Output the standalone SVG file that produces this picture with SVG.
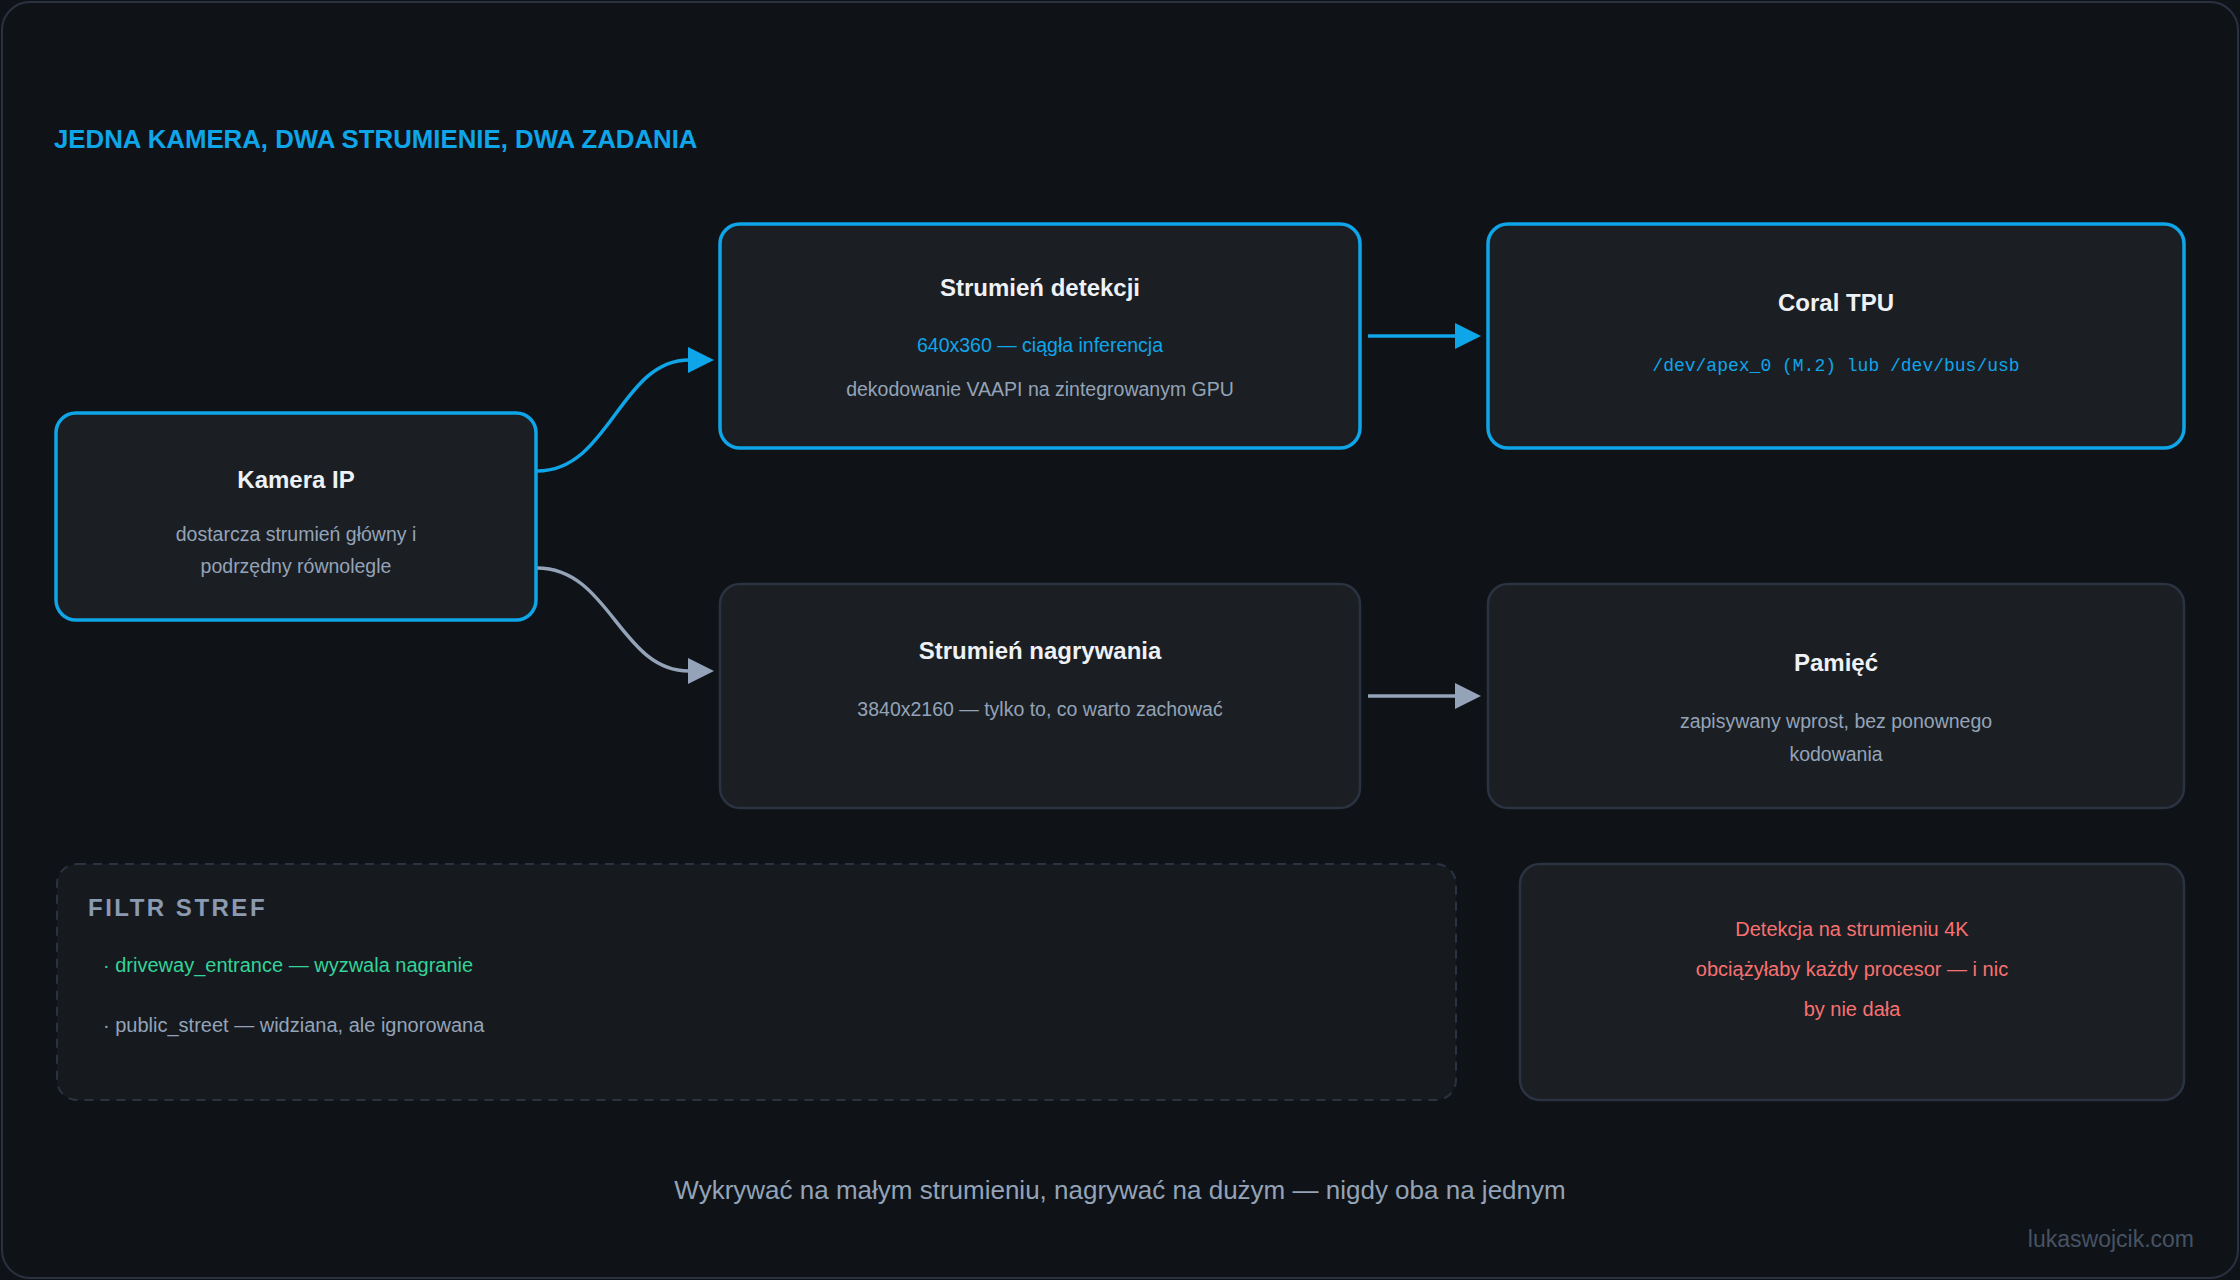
<svg xmlns="http://www.w3.org/2000/svg" width="2240" height="1280" viewBox="0 0 2240 1280">
<style>
.t{font-family:"Liberation Sans",Arial,sans-serif}
.nt{font-family:"Liberation Sans",Arial,sans-serif;font-weight:700;font-size:24px;fill:#eef1f5;text-anchor:middle}
.sub{font-family:"Liberation Sans",Arial,sans-serif;font-size:19.5px;fill:#94a3b8;text-anchor:middle}
.blue{fill:#0ea5e9}
.nodeA{fill:#1b1f23;stroke:#0ea5e9;stroke-width:3.5}
.nodeB{fill:#1b1f23;stroke:#2b3342;stroke-width:2.5}
.cb{fill:none;stroke:#0ea5e9;stroke-width:3.5}
.cg{fill:none;stroke:#94a3b8;stroke-width:3.5}
.mono{font-family:"Liberation Mono","DejaVu Sans Mono",monospace;font-size:18px;fill:#0ea5e9;text-anchor:middle}
</style>
<defs>
<marker id="ab" markerUnits="userSpaceOnUse" markerWidth="26" markerHeight="26" viewBox="0 0 26 26" refX="1" refY="13" orient="auto"><path d="M0,0 L26,13 L0,26 z" fill="#0ea5e9"/></marker>
<marker id="ag" markerUnits="userSpaceOnUse" markerWidth="26" markerHeight="26" viewBox="0 0 26 26" refX="1" refY="13" orient="auto"><path d="M0,0 L26,13 L0,26 z" fill="#94a3b8"/></marker>
</defs>
<rect x="0" y="0" width="2240" height="1280" fill="#0f1317"/>
<rect x="2" y="2" width="2236" height="1276" rx="28" fill="#0f1317" stroke="#2a3140" stroke-width="2"/>
<text x="54" y="148" class="t" font-size="25.8" font-weight="700" fill="#0ea5e9">JEDNA KAMERA, DWA STRUMIENIE, DWA ZADANIA</text>

<g id="connectors">
<path class="cb" d="M537,471 C610,471 620,360 689,360" marker-end="url(#ab)"/>
<path class="cg" d="M537,568 C610,568 620,671 689,671" marker-end="url(#ag)"/>
<path class="cb" d="M1368,336 L1456,336" marker-end="url(#ab)"/>
<path class="cg" d="M1368,696 L1456,696" marker-end="url(#ag)"/>
</g>

<g id="kamera">
<rect class="nodeA" x="56" y="413" width="480" height="207" rx="20"/>
<text class="nt" x="296" y="488">Kamera IP</text>
<text class="sub" x="296" y="541">dostarcza strumień główny i</text>
<text class="sub" x="296" y="573">podrzędny równolegle</text>
</g>

<g id="detekcja">
<rect class="nodeA" x="720" y="224" width="640" height="224" rx="20"/>
<text class="nt" x="1040" y="296">Strumień detekcji</text>
<text class="sub blue" x="1040" y="352">640x360 — ciągła inferencja</text>
<text class="sub" x="1040" y="396">dekodowanie VAAPI na zintegrowanym GPU</text>
</g>

<g id="coral">
<rect class="nodeA" x="1488" y="224" width="696" height="224" rx="20"/>
<text class="nt" x="1836" y="311">Coral TPU</text>
<text class="mono" x="1836" y="371">/dev/apex_0 (M.2) lub /dev/bus/usb</text>
</g>

<g id="nagrywanie">
<rect class="nodeB" x="720" y="584" width="640" height="224" rx="20"/>
<text class="nt" x="1040" y="659">Strumień nagrywania</text>
<text class="sub" x="1040" y="716">3840x2160 — tylko to, co warto zachować</text>
</g>

<g id="pamiec">
<rect class="nodeB" x="1488" y="584" width="696" height="224" rx="20"/>
<text class="nt" x="1836" y="671">Pamięć</text>
<text class="sub" x="1836" y="728">zapisywany wprost, bez ponownego</text>
<text class="sub" x="1836" y="761">kodowania</text>
</g>

<g id="filtr">
<rect x="57" y="864" width="1399" height="236" rx="20" fill="#161a1e" stroke="#2b3342" stroke-width="2" stroke-dasharray="9 7"/>
<text x="88" y="916" class="t" font-size="24" font-weight="700" letter-spacing="2.5" fill="#8b9ab0">FILTR STREF</text>
<text x="103" y="972" class="t" font-size="20" fill="#34d399">· driveway_entrance — wyzwala nagranie</text>
<text x="103" y="1032" class="t" font-size="20" fill="#94a3b8">· public_street — widziana, ale ignorowana</text>
</g>

<g id="uwaga">
<rect class="nodeB" x="1520" y="864" width="664" height="236" rx="20"/>
<text x="1852" y="936" class="t" font-size="20" fill="#f87171" text-anchor="middle">Detekcja na strumieniu 4K</text>
<text x="1852" y="976" class="t" font-size="20" fill="#f87171" text-anchor="middle">obciążyłaby każdy procesor — i nic</text>
<text x="1852" y="1016" class="t" font-size="20" fill="#f87171" text-anchor="middle">by nie dała</text>
</g>

<text x="1120" y="1199" class="t" font-size="26" fill="#94a3b8" text-anchor="middle">Wykrywać na małym strumieniu, nagrywać na dużym — nigdy oba na jednym</text>
<text x="2194" y="1247" class="t" font-size="23" fill="#475264" text-anchor="end">lukaswojcik.com</text>
</svg>
